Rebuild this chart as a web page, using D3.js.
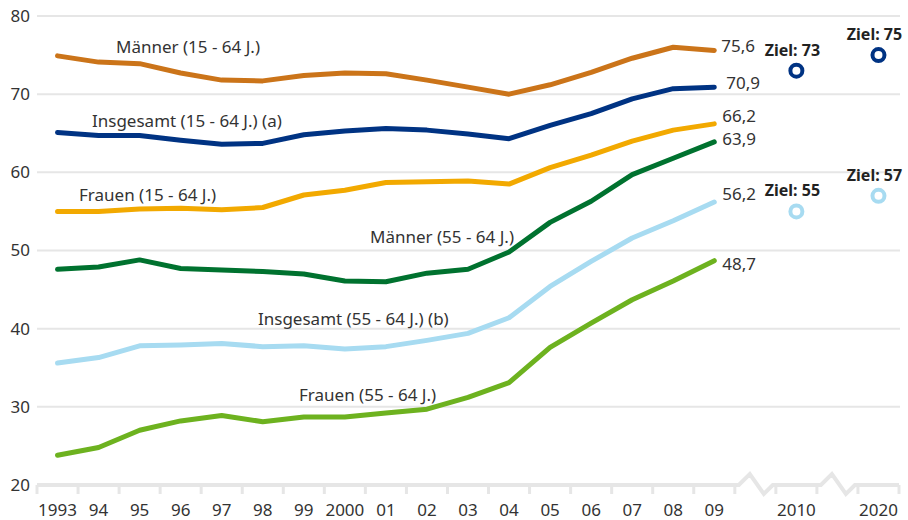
<!DOCTYPE html>
<html>
<head>
<meta charset="utf-8">
<script src="https://cdn.jsdelivr.net/npm/d3@7"></script>
<style>
  body { margin: 0; background: #fff; }
  svg { font-family: "Noto Sans", "Open Sans", sans-serif; }
</style>
</head>
<body>
<div id="chart"></div>
<script>
// Data
const years = ["1993", "94", "95", "96", "97", "98", "99", "2000", "01", "02", "03", "04", "05", "06", "07", "08", "09"];
const targetYears = ["2010", "2020"];
const yTicks = [20, 30, 40, 50, 60, 70, 80];

const maenner15 = [74.9, 74.1, 73.9, 72.7, 71.8, 71.7, 72.4, 72.7, 72.6, 71.8, 70.9, 70.0, 71.2, 72.8, 74.6, 76.0, 75.6];
const insgesamt15 = [65.1, 64.7, 64.7, 64.1, 63.6, 63.7, 64.8, 65.3, 65.6, 65.4, 64.9, 64.3, 66.0, 67.5, 69.4, 70.7, 70.9];
const frauen15 = [55.0, 55.0, 55.3, 55.4, 55.2, 55.5, 57.1, 57.7, 58.7, 58.8, 58.9, 58.5, 60.6, 62.2, 64.0, 65.4, 66.2];
const maenner55 = [47.6, 47.9, 48.8, 47.7, 47.5, 47.3, 47.0, 46.1, 46.0, 47.1, 47.6, 49.8, 53.6, 56.3, 59.7, 61.8, 63.9];
const insgesamt55 = [35.6, 36.3, 37.8, 37.9, 38.1, 37.7, 37.8, 37.4, 37.7, 38.5, 39.4, 41.4, 45.4, 48.6, 51.6, 53.8, 56.2];
const frauen55 = [23.8, 24.8, 27.0, 28.2, 28.9, 28.1, 28.7, 28.7, 29.2, 29.7, 31.2, 33.1, 37.6, 40.7, 43.7, 46.1, 48.7];

const ziel15 = [73, 75];
const ziel55 = [55, 57];

const series = [
    { name: "Männer (15 - 64 J.)", values: maenner15, color: "#cb7419", lx: 116, ly: 53, dx: 7, dy: -4 },
    { name: "Insgesamt (15 - 64 J.) (a)", values: insgesamt15, color: "#003383", lx: 92, ly: 127, dx: 12, dy: -4 },
    { name: "Frauen (15 - 64 J.)", values: frauen15, color: "#f2a900", lx: 79, ly: 201, dx: 8, dy: -8 },
    { name: "Männer (55 - 64 J.)", values: maenner55, color: "#00722f", lx: 370, ly: 243, dx: 8, dy: -3 },
    { name: "Insgesamt (55 - 64 J.) (b)", values: insgesamt55, color: "#a7dbf1", lx: 258, ly: 325, dx: 8, dy: -8 },
    { name: "Frauen (55 - 64 J.)", values: frauen55, color: "#6db21f", lx: 299, ly: 401, dx: 8, dy: 3 }
];

const width = 908;
const height = 520;
const marginLeft = 37;
const marginRight = 9;
const marginTop = 16;
const marginBottom = 35;

// x domain: years, a break, 2010, a break, 2020
const domain = years.concat(["gap1", "2010", "gap2", "2020"]);

const x = d3.scaleBand()
    .domain(domain)
    .range([marginLeft, width - marginRight])
    .padding(0);

const y = d3.scaleLinear()
    .domain([20, 80])
    .range([height - marginBottom, marginTop]);

const cx = d => x(d) + x.bandwidth() / 2;

const svg = d3.create("svg")
    .attr("width", width)
    .attr("height", height);

d3.select("#chart").append(() => svg.node());

// Gridlines
svg.append("g")
    .selectAll("line")
    .data(yTicks.filter(t => t > 20))
    .join("line")
    .attr("x1", marginLeft)
    .attr("x2", width - marginRight + 1)
    .attr("y1", d => y(d))
    .attr("y2", d => y(d))
    .attr("stroke", "#e6e6e6")
    .attr("stroke-width", 2);

// Y labels
svg.append("g")
    .selectAll("text")
    .data(yTicks)
    .join("text")
    .attr("x", 30)
    .attr("y", d => y(d))
    .attr("dy", "0.35em")
    .attr("text-anchor", "end")
    .attr("font-size", 17)
    .attr("fill", "#333")
    .text(d => d);

// Bottom axis line with breaks
const y0 = y(20);
const bw = x.bandwidth();
const axisPath = d3.path();
axisPath.moveTo(marginLeft, y0);
domain.forEach(d => {
    const a = x(d);
    if (d.startsWith("gap")) {
        axisPath.lineTo(a + 4, y0);
        axisPath.lineTo(a + 15, y0 - 11);
        axisPath.lineTo(a + 29, y0 + 9);
        axisPath.lineTo(a + 38, y0);
        axisPath.lineTo(a + bw, y0);
    } else {
        axisPath.lineTo(a + bw, y0);
    }
});
svg.append("path")
    .attr("d", axisPath.toString())
    .attr("fill", "none")
    .attr("stroke", "#e6e6e6")
    .attr("stroke-width", 4)
    .attr("stroke-linejoin", "miter");

// Tick marks at band edges
const edges = domain.map(d => x(d)).concat([x.range()[1]]);
svg.append("g")
    .selectAll("line")
    .data(edges)
    .join("line")
    .attr("x1", d => d)
    .attr("x2", d => d)
    .attr("y1", y0)
    .attr("y2", y0 + 9)
    .attr("stroke", "#e6e6e6")
    .attr("stroke-width", 3);

// X labels
const gx = svg.append("g")
    .attr("transform", `translate(0,${y0})`)
    .call(d3.axisBottom(x)
        .tickSize(0)
        .tickPadding(19)
        .tickFormat(d => d.startsWith("gap") ? "" : d));
gx.select(".domain").remove();
gx.selectAll("text")
    .attr("font-size", 17)
    .attr("font-family", "Noto Sans, sans-serif")
    .attr("fill", "#333");

// Lines
const line = d3.line()
    .x((d, i) => cx(years[i]))
    .y(d => y(d));

svg.append("g")
    .selectAll("path")
    .data(series)
    .join("path")
    .attr("d", d => line(d.values))
    .attr("fill", "none")
    .attr("stroke", d => d.color)
    .attr("stroke-width", 5)
    .attr("stroke-linecap", "round")
    .attr("stroke-linejoin", "round");

// Series labels
svg.append("g")
    .selectAll("text")
    .data(series)
    .join("text")
    .attr("x", d => d.lx)
    .attr("y", d => d.ly)
    .attr("font-size", 17)
    .attr("fill", "#333")
    .text(d => d.name);

// End value labels
const last = years[years.length - 1];
svg.append("g")
    .selectAll("text")
    .data(series)
    .join("text")
    .attr("x", d => cx(last) + d.dx)
    .attr("y", d => y(d.values[d.values.length - 1]) + d.dy)
    .attr("dy", "0.35em")
    .attr("font-size", 17)
    .attr("fill", "#333")
    .text(d => d3.format(".1f")(d.values[d.values.length - 1]).replace(".", ","));

// Targets
const targets = [
    { values: ziel15, color: "#003383" },
    { values: ziel55, color: "#a7dbf1" }
];
targets.forEach(t => {
    const g = svg.append("g");
    g.selectAll("circle")
        .data(t.values)
        .join("circle")
        .attr("cx", (d, i) => cx(targetYears[i]))
        .attr("cy", d => y(d))
        .attr("r", 6)
        .attr("fill", "#fff")
        .attr("stroke", t.color)
        .attr("stroke-width", 4);
    g.selectAll("text")
        .data(t.values)
        .join("text")
        .attr("x", (d, i) => cx(targetYears[i]) - 4)
        .attr("y", d => y(d) - 15)
        .attr("text-anchor", "middle")
        .attr("font-size", 16)
        .attr("font-weight", "bold")
        .attr("fill", "#222")
        .text(d => "Ziel: " + d);
});
</script>
</body>
</html>
